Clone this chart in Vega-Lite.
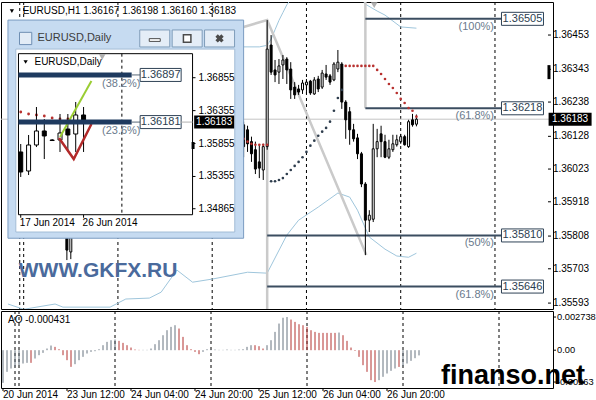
{
"$schema":"https://vega.github.io/schema/vega-lite/v6.json",
"padding":0,
"background":"#ffffff",
"config":{"font":"Liberation Sans","view":{"stroke":"#000000","strokeWidth":1}},
"datasets":{
"sep":[{"i":-1},{"i":0},{"i":24},{"i":48},{"i":72},{"i":96},{"i":120}],
"bands":[{"b":"u","i":56,"p":1.36415},{"b":"u","i":60,"p":1.36415},{"b":"u","i":62,"p":1.3642},{"b":"u","i":63,"p":1.3644},{"b":"u","i":64,"p":1.3647},{"b":"u","i":65,"p":1.365},{"b":"u","i":66,"p":1.36525},{"b":"u","i":67,"p":1.3655},{"b":"u","i":70,"p":1.366},{"b":"u","i":80,"p":1.3663},{"b":"u","i":85,"p":1.3659},{"b":"u","i":87,"p":1.36552},{"b":"u","i":90,"p":1.3653},{"b":"u","i":92,"p":1.36517},{"b":"u","i":96,"p":1.36479},{"b":"u","i":100,"p":1.36475},
{"b":"l","i":-4,"p":1.3559},{"b":"l","i":0,"p":1.35573},{"b":"l","i":8,"p":1.3559},{"b":"l","i":10,"p":1.3558},{"b":"l","i":22,"p":1.3558},{"b":"l","i":26,"p":1.35606},{"b":"l","i":32,"p":1.35609},{"b":"l","i":35,"p":1.35628},{"b":"l","i":39,"p":1.35699},{"b":"l","i":43,"p":1.3566},{"b":"l","i":48,"p":1.3567},{"b":"l","i":57,"p":1.35692},{"b":"l","i":62,"p":1.35689},{"b":"l","i":67,"p":1.35811},{"b":"l","i":70,"p":1.35859},{"b":"l","i":75,"p":1.35901},{"b":"l","i":80,"p":1.35946},{"b":"l","i":83,"p":1.35933},{"b":"l","i":85,"p":1.35891},{"b":"l","i":88,"p":1.35805},{"b":"l","i":92,"p":1.35766},{"b":"l","i":95,"p":1.35744},{"b":"l","i":98,"p":1.3574},{"b":"l","i":100,"p":1.35753}],
"fib":[{"lvl":1.36505,"lab":"1.36505","pct":"(100%)","s":87},{"lvl":1.36218,"lab":"1.36218","pct":"(61.8%)","s":87},{"lvl":1.3581,"lab":"1.35810","pct":"(50%)","s":62},{"lvl":1.35646,"lab":"1.35646","pct":"(61.8%)","s":62}],
"c1":[{"i":11,"o":1.35837,"h":1.35869,"l":1.35731,"c":1.35763,"d":"down"},
{"i":12,"o":1.35757,"h":1.35853,"l":1.35734,"c":1.35827,"d":"up"},
{"i":56,"o":1.36165,"h":1.36175,"l":1.36061,"c":1.36095,"d":"down"},
{"i":57,"o":1.36149,"h":1.36162,"l":1.36078,"c":1.36104,"d":"down"},
{"i":58,"o":1.36111,"h":1.36127,"l":1.36046,"c":1.36072,"d":"down"},
{"i":59,"o":1.36085,"h":1.36111,"l":1.36007,"c":1.36023,"d":"down"},
{"i":60,"o":1.36046,"h":1.36101,"l":1.35994,"c":1.36026,"d":"down"},
{"i":61,"o":1.3602,"h":1.36104,"l":1.35988,"c":1.36095,"d":"up"},
{"i":62,"o":1.36095,"h":1.36501,"l":1.36085,"c":1.36408,"d":"up"},
{"i":63,"o":1.36421,"h":1.36453,"l":1.36325,"c":1.36334,"d":"down"},
{"i":64,"o":1.36341,"h":1.36373,"l":1.36302,"c":1.36325,"d":"down"},
{"i":65,"o":1.36334,"h":1.36376,"l":1.36296,"c":1.36354,"d":"up"},
{"i":66,"o":1.36357,"h":1.36389,"l":1.36312,"c":1.36373,"d":"up"},
{"i":67,"o":1.36376,"h":1.36382,"l":1.36296,"c":1.36341,"d":"down"},
{"i":68,"o":1.36344,"h":1.36366,"l":1.36248,"c":1.36277,"d":"down"},
{"i":69,"o":1.36286,"h":1.36302,"l":1.36248,"c":1.36261,"d":"down"},
{"i":70,"o":1.3628,"h":1.36293,"l":1.36261,"c":1.3627,"d":"down"},
{"i":71,"o":1.36277,"h":1.36309,"l":1.36264,"c":1.36299,"d":"up"},
{"i":72,"o":1.36293,"h":1.36312,"l":1.36264,"c":1.36302,"d":"up"},
{"i":73,"o":1.36305,"h":1.36309,"l":1.36261,"c":1.36267,"d":"down"},
{"i":74,"o":1.36264,"h":1.36318,"l":1.36261,"c":1.36309,"d":"up"},
{"i":75,"o":1.36312,"h":1.36322,"l":1.3627,"c":1.3628,"d":"down"},
{"i":76,"o":1.36286,"h":1.36341,"l":1.3628,"c":1.36331,"d":"up"},
{"i":77,"o":1.36328,"h":1.36357,"l":1.36309,"c":1.36318,"d":"down"},
{"i":78,"o":1.36322,"h":1.36328,"l":1.36293,"c":1.36302,"d":"down"},
{"i":79,"o":1.36309,"h":1.36366,"l":1.36305,"c":1.3636,"d":"up"},
{"i":80,"o":1.36344,"h":1.36405,"l":1.36334,"c":1.36366,"d":"up"},
{"i":81,"o":1.3636,"h":1.36366,"l":1.36216,"c":1.36238,"d":"down"},
{"i":82,"o":1.36238,"h":1.36244,"l":1.3612,"c":1.36181,"d":"down"},
{"i":83,"o":1.36207,"h":1.36222,"l":1.36101,"c":1.36149,"d":"down"},
{"i":84,"o":1.36149,"h":1.36168,"l":1.36111,"c":1.3612,"d":"down"},
{"i":85,"o":1.36123,"h":1.36136,"l":1.36055,"c":1.36072,"d":"down"},
{"i":86,"o":1.36072,"h":1.36078,"l":1.35965,"c":1.35975,"d":"down"},
{"i":87,"o":1.35975,"h":1.35981,"l":1.35747,"c":1.35859,"d":"down"},
{"i":88,"o":1.35859,"h":1.35891,"l":1.35821,"c":1.35875,"d":"up"},
{"i":89,"o":1.35862,"h":1.36168,"l":1.35853,"c":1.36088,"d":"up"},
{"i":90,"o":1.36088,"h":1.36152,"l":1.36061,"c":1.36111,"d":"up"},
{"i":91,"o":1.36136,"h":1.36162,"l":1.36061,"c":1.36111,"d":"down"},
{"i":92,"o":1.36111,"h":1.36133,"l":1.36058,"c":1.36061,"d":"down"},
{"i":93,"o":1.36061,"h":1.36117,"l":1.36055,"c":1.36088,"d":"up"},
{"i":94,"o":1.36085,"h":1.36133,"l":1.36078,"c":1.36104,"d":"up"},
{"i":95,"o":1.36101,"h":1.36133,"l":1.36095,"c":1.36117,"d":"up"},
{"i":96,"o":1.36111,"h":1.36136,"l":1.36104,"c":1.36127,"d":"up"},
{"i":97,"o":1.36127,"h":1.36133,"l":1.36098,"c":1.36101,"d":"down"},
{"i":98,"o":1.36095,"h":1.36181,"l":1.36091,"c":1.36175,"d":"up"},
{"i":99,"o":1.36181,"h":1.362,"l":1.36159,"c":1.36165,"d":"down"},
{"i":100,"o":1.36167,"h":1.36198,"l":1.3616,"c":1.36183,"d":"up"}],
"sar":[{"i":56,"p":1.3612,"s":"r"},{"i":57,"p":1.36111,"s":"r"},{"i":58,"p":1.36104,"s":"r"},{"i":59,"p":1.36101,"s":"r"},{"i":60,"p":1.36101,"s":"r"},{"i":61,"p":1.36101,"s":"r"},{"i":62,"p":1.36101,"s":"r"},
{"i":63,"p":1.35984,"s":"k"},{"i":64,"p":1.35984,"s":"k"},{"i":65,"p":1.35988,"s":"k"},{"i":66,"p":1.35994,"s":"k"},{"i":67,"p":1.36007,"s":"k"},{"i":68,"p":1.3602,"s":"k"},{"i":69,"p":1.36033,"s":"k"},{"i":70,"p":1.36046,"s":"k"},{"i":71,"p":1.36061,"s":"k"},{"i":72,"p":1.36078,"s":"k"},{"i":73,"p":1.36098,"s":"k"},{"i":74,"p":1.36114,"s":"k"},{"i":75,"p":1.3613,"s":"k"},{"i":76,"p":1.36143,"s":"k"},{"i":77,"p":1.36155,"s":"k"},{"i":78,"p":1.36175,"s":"k"},{"i":79,"p":1.3621,"s":"k"},{"i":80,"p":1.36251,"s":"k"},{"i":81,"p":1.36277,"s":"k"},
{"i":82,"p":1.36354,"s":"r"},{"i":83,"p":1.36354,"s":"r"},{"i":84,"p":1.36354,"s":"r"},{"i":85,"p":1.36354,"s":"r"},{"i":86,"p":1.36354,"s":"r"},{"i":87,"p":1.36354,"s":"r"},{"i":88,"p":1.36354,"s":"r"},{"i":89,"p":1.36354,"s":"r"},{"i":90,"p":1.36341,"s":"r"},{"i":91,"p":1.36328,"s":"r"},{"i":92,"p":1.36312,"s":"r"},{"i":93,"p":1.36296,"s":"r"},{"i":94,"p":1.36283,"s":"r"},{"i":95,"p":1.36267,"s":"r"},{"i":96,"p":1.36248,"s":"r"},{"i":97,"p":1.36235,"s":"r"},{"i":98,"p":1.36219,"s":"r"},{"i":99,"p":1.3621,"s":"r"},{"i":100,"p":1.36191,"s":"r"}],
"c2":[{"j":0,"o":1.35727,"h":1.35848,"l":1.35347,"c":1.35423,"d":"down"},
{"j":1,"o":1.35438,"h":1.35985,"l":1.35377,"c":1.35833,"d":"up"},
{"j":2,"o":1.35833,"h":1.3641,"l":1.35802,"c":1.36046,"d":"up"},
{"j":3,"o":1.36046,"h":1.36228,"l":1.3562,"c":1.3597,"d":"down"},
{"j":4,"o":1.35909,"h":1.35924,"l":1.35894,"c":1.35901,"d":"down"},
{"j":5,"o":1.35909,"h":1.36304,"l":1.35727,"c":1.36015,"d":"up"},
{"j":6,"o":1.36076,"h":1.36304,"l":1.35727,"c":1.35985,"d":"down"},
{"j":7,"o":1.36,"h":1.36486,"l":1.35727,"c":1.36289,"d":"up"},
{"j":8,"o":1.36289,"h":1.3641,"l":1.35727,"c":1.36183,"d":"down"}],
"sar2":[{"j":0,"q":1.36334},{"j":1,"q":1.36304},{"j":2,"q":1.36289},{"j":3,"q":1.36273},{"j":4,"q":1.36243},{"j":5,"q":1.36228},{"j":6,"q":1.36228}],
"fib2":[{"lvl":1.36897,"lab":"1.36897","pct":"(38.2%)"},{"lvl":1.36181,"lab":"1.36181","pct":"(23.6%)"}],
"pticks":[{"p":1.36453},{"p":1.36343},{"p":1.36238},{"p":1.36128},{"p":1.36023},{"p":1.35918},{"p":1.35808},{"p":1.35703},{"p":1.35593}],
"aoticks":[{"v":0.002738,"t":"0.002738"},{"v":0,"t":"0.00"},{"v":-0.00263,"t":"-0.00263"}],
"xticks":[{"i":-4,"t":"20 Jun 2014"},{"i":12,"t":"23 Jun 12:00"},{"i":28,"t":"24 Jun 04:00"},{"i":44,"t":"24 Jun 20:00"},{"i":60,"t":"25 Jun 12:00"},{"i":76,"t":"26 Jun 04:00"},{"i":92,"t":"26 Jun 20:00"}],
"ao":[{"i":-4,"v":-0.002695,"d":"g"},{"i":-3,"v":-0.001788,"d":"g"},{"i":-2,"v":-0.001513,"d":"g"},{"i":-1,"v":-0.001375,"d":"g"},{"i":0,"v":-0.001238,"d":"g"},{"i":1,"v":-0.0011,"d":"g"},{"i":2,"v":-0.001045,"d":"g"},{"i":3,"v":-0.001045,"d":"r"},{"i":4,"v":-0.000688,"d":"g"},{"i":5,"v":-0.000413,"d":"g"},{"i":6,"v":-0.00022,"d":"g"},{"i":7,"v":0.000138,"d":"g"},{"i":8,"v":0.000385,"d":"g"},{"i":9,"v":0.000275,"d":"r"},{"i":10,"v":0.0000825,"d":"r"},{"i":11,"v":-0.000413,"d":"r"},{"i":12,"v":-0.000825,"d":"r"},{"i":13,"v":-0.001375,"d":"r"},{"i":14,"v":-0.001155,"d":"g"},{"i":15,"v":-0.000825,"d":"g"},{"i":16,"v":-0.00055,"d":"g"},{"i":17,"v":-0.000275,"d":"g"},{"i":18,"v":-0.000138,"d":"g"},{"i":19,"v":-0.0000825,"d":"g"},{"i":20,"v":0.0000825,"d":"g"},{"i":21,"v":0.000413,"d":"g"},{"i":22,"v":0.000688,"d":"g"},{"i":23,"v":0.000825,"d":"g"},{"i":24,"v":0.00088,"d":"g"},{"i":25,"v":0.00077,"d":"r"},{"i":26,"v":0.000605,"d":"r"},{"i":27,"v":0.000413,"d":"r"},{"i":28,"v":0.00022,"d":"r"},{"i":29,"v":0.000055,"d":"r"},{"i":30,"v":0.0000275,"d":"r"},{"i":31,"v":0.0000275,"d":"g"},{"i":32,"v":0.0000275,"d":"g"},{"i":33,"v":0.000138,"d":"g"},{"i":34,"v":0.000495,"d":"g"},{"i":35,"v":0.000825,"d":"g"},{"i":36,"v":0.001238,"d":"g"},{"i":37,"v":0.00165,"d":"g"},{"i":38,"v":0.001925,"d":"g"},{"i":39,"v":0.002063,"d":"g"},{"i":40,"v":0.001788,"d":"r"},{"i":41,"v":0.0011,"d":"r"},{"i":42,"v":0.000413,"d":"r"},{"i":43,"v":0.0000825,"d":"r"},{"i":44,"v":-0.000138,"d":"r"},{"i":45,"v":-0.00033,"d":"r"},{"i":46,"v":-0.000138,"d":"g"},{"i":47,"v":0.0000825,"d":"g"},{"i":48,"v":0.000055,"d":"g"},{"i":49,"v":0.000055,"d":"g"},{"i":50,"v":0.0000275,"d":"g"},{"i":51,"v":0.0000275,"d":"g"},{"i":52,"v":0.000055,"d":"g"},{"i":53,"v":0.0000275,"d":"g"},{"i":54,"v":0.0000275,"d":"g"},{"i":55,"v":0.000055,"d":"g"},{"i":56,"v":0.0000825,"d":"g"},{"i":57,"v":0.000275,"d":"g"},{"i":58,"v":0.000413,"d":"g"},{"i":59,"v":0.000413,"d":"r"},{"i":60,"v":0.00033,"d":"r"},{"i":61,"v":0.000138,"d":"r"},{"i":62,"v":0.000413,"d":"g"},{"i":63,"v":0.000825,"d":"g"},{"i":64,"v":0.001513,"d":"g"},{"i":65,"v":0.0022,"d":"g"},{"i":66,"v":0.00268,"d":"g"},{"i":67,"v":0.002738,"d":"g"},{"i":68,"v":0.00253,"d":"r"},{"i":69,"v":0.002338,"d":"r"},{"i":70,"v":0.002145,"d":"r"},{"i":71,"v":0.002063,"d":"r"},{"i":72,"v":0.001925,"d":"r"},{"i":73,"v":0.00165,"d":"r"},{"i":74,"v":0.001513,"d":"r"},{"i":75,"v":0.00143,"d":"r"},{"i":76,"v":0.00143,"d":"r"},{"i":77,"v":0.00143,"d":"r"},{"i":78,"v":0.00143,"d":"r"},{"i":79,"v":0.00143,"d":"r"},{"i":80,"v":0.001458,"d":"g"},{"i":81,"v":0.001238,"d":"r"},{"i":82,"v":0.00077,"d":"r"},{"i":83,"v":0.00022,"d":"r"},{"i":84,"v":-0.000055,"d":"r"},{"i":85,"v":-0.00055,"d":"r"},{"i":86,"v":-0.001238,"d":"r"},{"i":87,"v":-0.001788,"d":"r"},{"i":88,"v":-0.002475,"d":"r"},{"i":89,"v":-0.00263,"d":"r"},{"i":90,"v":-0.002475,"d":"g"},{"i":91,"v":-0.0022,"d":"g"},{"i":92,"v":-0.001925,"d":"g"},{"i":93,"v":-0.001705,"d":"g"},{"i":94,"v":-0.001513,"d":"g"},{"i":95,"v":-0.00138,"d":"r"},{"i":96,"v":-0.00132,"d":"g"},{"i":97,"v":-0.0011,"d":"g"},{"i":98,"v":-0.00088,"d":"g"},{"i":99,"v":-0.00066,"d":"g"},{"i":100,"v":-0.000431,"d":"g"}]
},
"spacing":2,
"bounds":"flush",
"resolve":{"scale":{"x":"independent","y":"independent"}},
"vconcat":[
{"width":552,"height":307,
"resolve":{"scale":{"x":"independent","y":"independent"},"axis":{"x":"independent","y":"independent"}},
"layer":[
{"layer":[
{"data":{"name":"sep"},"mark":{"type":"rule","color":"#000000","strokeDash":[3,3],"strokeWidth":1},
 "encoding":{"x":{"field":"i","type":"quantitative","scale":{"domain":[-4.5,133.5],"nice":false,"zero":false},"axis":null}}},
{"data":{"name":"bands"},"mark":{"type":"line","clip":true,"color":"#9fc6dc","strokeWidth":1},
 "encoding":{"x":{"field":"i","type":"quantitative","scale":{"domain":[-4.5,133.5],"nice":false,"zero":false},"axis":null},
  "y":{"field":"p","type":"quantitative","scale":{"domain":[1.35574,1.36559],"nice":false,"zero":false},"axis":null},
  "detail":{"field":"b"}}},
{"data":{"values":[{"p":1.36183}]},"mark":{"type":"rule","color":"#c4c4c4","strokeWidth":1},
 "encoding":{"y":{"field":"p","type":"quantitative","scale":{"domain":[1.35574,1.36559],"nice":false,"zero":false},"axis":null}}},
{"data":{"values":[{"i":56,"p":1.36479},{"i":62,"p":1.36501},{"i":87.25,"p":1.35747}]},"mark":{"type":"line","color":"#cacaca","strokeWidth":2.5},
 "encoding":{"x":{"field":"i","type":"quantitative","scale":{"domain":[-4.5,133.5],"nice":false,"zero":false},"axis":null},
  "y":{"field":"p","type":"quantitative","scale":{"domain":[1.35574,1.36559],"nice":false,"zero":false},"axis":null}}},
{"data":{"values":[{}]},"mark":{"type":"rule","color":"#cacaca","strokeWidth":2.5},
 "encoding":{"x":{"datum":62,"type":"quantitative","scale":{"domain":[-4.5,133.5],"nice":false,"zero":false},"axis":null},
  "y":{"datum":1.36501,"type":"quantitative","scale":{"domain":[1.35574,1.36559],"nice":false,"zero":false},"axis":null},"y2":{"datum":1.35574}}},
{"data":{"values":[{}]},"mark":{"type":"rule","color":"#cacaca","strokeWidth":2.5},
 "encoding":{"x":{"datum":87,"type":"quantitative","scale":{"domain":[-4.5,133.5],"nice":false,"zero":false},"axis":null},
  "y":{"datum":1.36559,"type":"quantitative","scale":{"domain":[1.35574,1.36559],"nice":false,"zero":false},"axis":null},"y2":{"datum":1.36218}}},
{"data":{"name":"fib"},"mark":{"type":"rule","color":"#3b4d60","strokeWidth":2},
 "encoding":{"x":{"field":"s","type":"quantitative","scale":{"domain":[-4.5,133.5],"nice":false,"zero":false},"axis":null},"x2":{"datum":121.75},
  "y":{"field":"lvl","type":"quantitative","scale":{"domain":[1.35574,1.36559],"nice":false,"zero":false},"axis":null}}},
{"data":{"name":"fib"},"mark":{"type":"text","align":"right","baseline":"middle","dy":8,"fontSize":11,"color":"#6a7a8c"},
 "encoding":{"x":{"datum":119.75,"type":"quantitative","scale":{"domain":[-4.5,133.5],"nice":false,"zero":false},"axis":null},
  "y":{"field":"lvl","type":"quantitative","scale":{"domain":[1.35574,1.36559],"nice":false,"zero":false},"axis":null},"text":{"field":"pct"}}},
{"data":{"name":"fib"},"mark":{"type":"point","shape":"M-1,-0.31L1,-0.31L1,0.31L-1,0.31Z","size":1764,"filled":true,"fill":"#ffffff","stroke":"#2f4256","strokeWidth":1,"opacity":1},
 "encoding":{"x":{"datum":127,"type":"quantitative","scale":{"domain":[-4.5,133.5],"nice":false,"zero":false},"axis":null},
  "y":{"field":"lvl","type":"quantitative","scale":{"domain":[1.35574,1.36559],"nice":false,"zero":false},"axis":null}}},
{"data":{"name":"fib"},"mark":{"type":"text","align":"center","baseline":"middle","fontSize":11,"color":"#2c3e50"},
 "encoding":{"x":{"datum":127,"type":"quantitative","scale":{"domain":[-4.5,133.5],"nice":false,"zero":false},"axis":null},
  "y":{"field":"lvl","type":"quantitative","scale":{"domain":[1.35574,1.36559],"nice":false,"zero":false},"axis":null},"text":{"field":"lab"}}},
{"data":{"name":"c1"},"mark":{"type":"rule","color":"#000000","strokeWidth":1},
 "encoding":{"x":{"field":"i","type":"quantitative","scale":{"domain":[-4.5,133.5],"nice":false,"zero":false},"axis":null},
  "y":{"field":"l","type":"quantitative","scale":{"domain":[1.35574,1.36559],"nice":false,"zero":false},"axis":null},"y2":{"field":"h"}}},
{"data":{"name":"c1"},"mark":{"type":"bar","width":2,"stroke":"#000000","strokeWidth":1},
 "encoding":{"x":{"field":"i","type":"quantitative","scale":{"domain":[-4.5,133.5],"nice":false,"zero":false},"axis":null},
  "y":{"field":"o","type":"quantitative","scale":{"domain":[1.35574,1.36559],"nice":false,"zero":false},"axis":null},"y2":{"field":"c"},
  "color":{"condition":{"test":"datum.d === 'up'","value":"#ffffff"},"value":"#000000"}}},
{"data":{"name":"sar"},"mark":{"type":"point","filled":true,"size":7,"opacity":1},
 "encoding":{"x":{"field":"i","type":"quantitative","scale":{"domain":[-4.5,133.5],"nice":false,"zero":false},"axis":null},
  "y":{"field":"p","type":"quantitative","scale":{"domain":[1.35574,1.36559],"nice":false,"zero":false},"axis":null},
  "color":{"condition":{"test":"datum.s === 'r'","value":"#b8312f"},"value":"#2e3d4d"}}},
{"data":{"values":[{}]},"mark":{"type":"point","shape":"triangle-down","filled":true,"size":18,"color":"#000000","opacity":1},
 "encoding":{"x":{"datum":-3,"type":"quantitative","scale":{"domain":[-4.5,133.5],"nice":false,"zero":false},"axis":null},
  "y":{"datum":1.3653,"type":"quantitative","scale":{"domain":[1.35574,1.36559],"nice":false,"zero":false},"axis":null}}},
{"data":{"values":[{}]},"mark":{"type":"text","align":"left","baseline":"middle","fontSize":10,"color":"#000000","text":"EURUSD,H1  1.36167 1.36198 1.36160 1.36183"},
 "encoding":{"x":{"datum":-0.25,"type":"quantitative","scale":{"domain":[-4.5,133.5],"nice":false,"zero":false},"axis":null},
  "y":{"datum":1.3653,"type":"quantitative","scale":{"domain":[1.35574,1.36559],"nice":false,"zero":false},"axis":null}}},
{"data":{"name":"pticks"},"mark":{"type":"rule","color":"#000000","strokeWidth":1},
 "encoding":{"x":{"datum":133.5,"type":"quantitative","scale":{"domain":[-4.5,133.5],"nice":false,"zero":false},"axis":null},"x2":{"datum":134.25},
  "y":{"field":"p","type":"quantitative","scale":{"domain":[1.35574,1.36559],"nice":false,"zero":false},"axis":null}}},
{"data":{"name":"pticks"},"mark":{"type":"text","align":"left","baseline":"middle","fontSize":10,"color":"#000000"},
 "encoding":{"x":{"datum":134.75,"type":"quantitative","scale":{"domain":[-4.5,133.5],"nice":false,"zero":false},"axis":null},
  "y":{"field":"p","type":"quantitative","scale":{"domain":[1.35574,1.36559],"nice":false,"zero":false},"axis":null},
  "text":{"field":"p","type":"quantitative","format":".5f"}}},
{"data":{"values":[{}]},"mark":{"type":"point","shape":"M-1,-0.302L1,-0.302L1,0.302L-1,0.302Z","size":1849,"filled":true,"color":"#000000","opacity":1},
 "encoding":{"x":{"datum":139.125,"type":"quantitative","scale":{"domain":[-4.5,133.5],"nice":false,"zero":false},"axis":null},
  "y":{"datum":1.36183,"type":"quantitative","scale":{"domain":[1.35574,1.36559],"nice":false,"zero":false},"axis":null}}},
{"data":{"values":[{}]},"mark":{"type":"text","align":"center","baseline":"middle","fontSize":10,"color":"#ffffff","text":"1.36183"},
 "encoding":{"x":{"datum":139.125,"type":"quantitative","scale":{"domain":[-4.5,133.5],"nice":false,"zero":false},"axis":null},
  "y":{"datum":1.36183,"type":"quantitative","scale":{"domain":[1.35574,1.36559],"nice":false,"zero":false},"axis":null}}},
{"data":{"values":[{}]},"mark":{"type":"point","shape":"triangle-down","filled":true,"size":45,"color":"#b0b0b0","opacity":1},
 "encoding":{"x":{"datum":89.25,"type":"quantitative","scale":{"domain":[-4.5,133.5],"nice":false,"zero":false},"axis":null},
  "y":{"datum":1.36549,"type":"quantitative","scale":{"domain":[1.35574,1.36559],"nice":false,"zero":false},"axis":null}}},
{"data":{"values":[{}]},"mark":{"type":"point","shape":"M-1,-4.67L1,-4.67L1,4.67L-1,4.67Z","size":9,"filled":true,"color":"#000000","opacity":1},
 "encoding":{"x":{"datum":133.75,"type":"quantitative","scale":{"domain":[-4.5,133.5],"nice":false,"zero":false},"axis":null},
  "y":{"datum":1.36334,"type":"quantitative","scale":{"domain":[1.35574,1.36559],"nice":false,"zero":false},"axis":null}}},
{"data":{"values":[{}]},"mark":{"type":"text","align":"left","baseline":"alphabetic","fontSize":21,"fontWeight":"bold","color":"#4a6a9c","text":"WWW.GKFX.RU"},
 "encoding":{"x":{"datum":-1.25,"type":"quantitative","scale":{"domain":[-4.5,133.5],"nice":false,"zero":false},"axis":null},
  "y":{"datum":1.35676,"type":"quantitative","scale":{"domain":[1.35574,1.36559],"nice":false,"zero":false},"axis":null}}},
{"data":{"values":[{}]},"mark":{"type":"rect","fill":"#c6dbf1","stroke":"#7b9cc2","strokeWidth":1},
 "encoding":{"x":{"datum":-4,"type":"quantitative","scale":{"domain":[-4.5,133.5],"nice":false,"zero":false},"axis":null},"x2":{"datum":56},
  "y":{"datum":1.36501,"type":"quantitative","scale":{"domain":[1.35574,1.36559],"nice":false,"zero":false},"axis":null},"y2":{"datum":1.35801}}},
{"data":{"values":[{}]},"mark":{"type":"rect","fill":"#ffffff","stroke":"#a3bcd6","strokeWidth":1},
 "encoding":{"x":{"datum":-2,"type":"quantitative","scale":{"domain":[-4.5,133.5],"nice":false,"zero":false},"axis":null},"x2":{"datum":53.75},
  "y":{"datum":1.36408,"type":"quantitative","scale":{"domain":[1.35574,1.36559],"nice":false,"zero":false},"axis":null},"y2":{"datum":1.35821}}},
{"data":{"values":[{}]},"mark":{"type":"point","shape":"square","size":150,"filled":true,"fill":"#e3ecf6","stroke":"#6f8fb3","strokeWidth":1,"opacity":1},
 "encoding":{"x":{"datum":0.5,"type":"quantitative","scale":{"domain":[-4.5,133.5],"nice":false,"zero":false},"axis":null},
  "y":{"datum":1.36442,"type":"quantitative","scale":{"domain":[1.35574,1.36559],"nice":false,"zero":false},"axis":null}}},
{"data":{"values":[{}]},"mark":{"type":"text","align":"left","baseline":"middle","fontSize":11,"color":"#3c3c3c","text":"EURUSD,Daily"},
 "encoding":{"x":{"datum":3.5,"type":"quantitative","scale":{"domain":[-4.5,133.5],"nice":false,"zero":false},"axis":null},
  "y":{"datum":1.36443,"type":"quantitative","scale":{"domain":[1.35574,1.36559],"nice":false,"zero":false},"axis":null}}},
{"data":{"values":[{}]},"mark":{"type":"point","shape":"M-1,-0.567L1,-0.567L1,0.567L-1,0.567Z","size":900,"filled":true,"fill":"#e4edf7","stroke":"#7f9db9","strokeWidth":1,"opacity":1},
 "encoding":{"x":{"datum":33.375,"type":"quantitative","scale":{"domain":[-4.5,133.5],"nice":false,"zero":false},"axis":null},
  "y":{"datum":1.36442,"type":"quantitative","scale":{"domain":[1.35574,1.36559],"nice":false,"zero":false},"axis":null}}},
{"data":{"values":[{}]},"mark":{"type":"point","shape":"M-1,-0.567L1,-0.567L1,0.567L-1,0.567Z","size":900,"filled":true,"fill":"#e4edf7","stroke":"#7f9db9","strokeWidth":1,"opacity":1},
 "encoding":{"x":{"datum":41.625,"type":"quantitative","scale":{"domain":[-4.5,133.5],"nice":false,"zero":false},"axis":null},
  "y":{"datum":1.36442,"type":"quantitative","scale":{"domain":[1.35574,1.36559],"nice":false,"zero":false},"axis":null}}},
{"data":{"values":[{}]},"mark":{"type":"point","shape":"M-1,-0.567L1,-0.567L1,0.567L-1,0.567Z","size":900,"filled":true,"fill":"#e4edf7","stroke":"#7f9db9","strokeWidth":1,"opacity":1},
 "encoding":{"x":{"datum":49.875,"type":"quantitative","scale":{"domain":[-4.5,133.5],"nice":false,"zero":false},"axis":null},
  "y":{"datum":1.36442,"type":"quantitative","scale":{"domain":[1.35574,1.36559],"nice":false,"zero":false},"axis":null}}},
{"data":{"values":[{}]},"mark":{"type":"point","shape":"M-1,-0.25L1,-0.25L1,0.25L-1,0.25Z","size":121,"filled":true,"fill":"#ffffff","stroke":"#4b4b4b","strokeWidth":1,"opacity":1},
 "encoding":{"x":{"datum":33.375,"type":"quantitative","scale":{"domain":[-4.5,133.5],"nice":false,"zero":false},"axis":null},
  "y":{"datum":1.36437,"type":"quantitative","scale":{"domain":[1.35574,1.36559],"nice":false,"zero":false},"axis":null}}},
{"data":{"values":[{}]},"mark":{"type":"point","shape":"square","size":56,"filled":true,"fill":"#ffffff","stroke":"#4b4b4b","strokeWidth":1.5,"opacity":1},
 "encoding":{"x":{"datum":41.625,"type":"quantitative","scale":{"domain":[-4.5,133.5],"nice":false,"zero":false},"axis":null},
  "y":{"datum":1.36442,"type":"quantitative","scale":{"domain":[1.35574,1.36559],"nice":false,"zero":false},"axis":null}}},
{"data":{"values":[{}]},"mark":{"type":"point","shape":"cross","angle":45,"size":70,"filled":true,"color":"#4b4b4b","opacity":1},
 "encoding":{"x":{"datum":49.875,"type":"quantitative","scale":{"domain":[-4.5,133.5],"nice":false,"zero":false},"axis":null},
  "y":{"datum":1.36442,"type":"quantitative","scale":{"domain":[1.35574,1.36559],"nice":false,"zero":false},"axis":null}}}
]},
{"layer":[
{"data":{"values":[{}]},"mark":{"type":"rect","fill":"#ffffff","stroke":"#000000","strokeWidth":1},
 "encoding":{"x":{"datum":-0.2875,"type":"quantitative","scale":{"domain":[-1.875,67.125],"nice":false,"zero":false},"axis":null},"x2":{"datum":21.875},
  "y":{"datum":1.3722,"type":"quantitative","scale":{"domain":[1.33342,1.38005],"nice":false,"zero":false},"axis":null},"y2":{"datum":1.34774}}},
{"data":{"values":[{}]},"mark":{"type":"rule","color":"#000000","strokeDash":[3,3],"strokeWidth":1},
 "encoding":{"x":{"datum":12.875,"type":"quantitative","scale":{"domain":[-1.875,67.125],"nice":false,"zero":false},"axis":null},
  "y":{"datum":1.3722,"type":"quantitative","scale":{"domain":[1.33342,1.38005],"nice":false,"zero":false},"axis":null},"y2":{"datum":1.34774}}},
{"data":{"name":"sar2"},"mark":{"type":"point","filled":true,"size":8,"color":"#b8312f","opacity":1},
 "encoding":{"x":{"field":"j","type":"quantitative","scale":{"domain":[-1.875,67.125],"nice":false,"zero":false},"axis":null},
  "y":{"field":"q","type":"quantitative","scale":{"domain":[1.33342,1.38005],"nice":false,"zero":false},"axis":null}}},
{"data":{"name":"c2"},"mark":{"type":"rule","color":"#000000","strokeWidth":1},
 "encoding":{"x":{"field":"j","type":"quantitative","scale":{"domain":[-1.875,67.125],"nice":false,"zero":false},"axis":null},
  "y":{"field":"l","type":"quantitative","scale":{"domain":[1.33342,1.38005],"nice":false,"zero":false},"axis":null},"y2":{"field":"h"}}},
{"data":{"name":"c2"},"mark":{"type":"bar","width":4,"stroke":"#000000","strokeWidth":1},
 "encoding":{"x":{"field":"j","type":"quantitative","scale":{"domain":[-1.875,67.125],"nice":false,"zero":false},"axis":null},
  "y":{"field":"o","type":"quantitative","scale":{"domain":[1.33342,1.38005],"nice":false,"zero":false},"axis":null},"y2":{"field":"c"},
  "color":{"condition":{"test":"datum.d === 'up'","value":"#ffffff"},"value":"#000000"}}},
{"data":{"values":[{"j":5,"q":1.35954},{"j":9,"q":1.36805}]},"mark":{"type":"line","color":"#9acd32","strokeWidth":2},
 "encoding":{"x":{"field":"j","type":"quantitative","scale":{"domain":[-1.875,67.125],"nice":false,"zero":false},"axis":null},
  "y":{"field":"q","type":"quantitative","scale":{"domain":[1.33342,1.38005],"nice":false,"zero":false},"axis":null}}},
{"data":{"values":[{"j":4.875,"q":1.35939},{"j":6.75,"q":1.3562},{"j":9,"q":1.36152}]},"mark":{"type":"line","color":"#b22a2a","strokeWidth":2.5},
 "encoding":{"x":{"field":"j","type":"quantitative","scale":{"domain":[-1.875,67.125],"nice":false,"zero":false},"axis":null},
  "y":{"field":"q","type":"quantitative","scale":{"domain":[1.33342,1.38005],"nice":false,"zero":false},"axis":null}}},
{"data":{"name":"fib2"},"mark":{"type":"rule","color":"#1e3a5f","strokeWidth":5},
 "encoding":{"x":{"datum":-0.2875,"type":"quantitative","scale":{"domain":[-1.875,67.125],"nice":false,"zero":false},"axis":null},"x2":{"datum":14.125},
  "y":{"field":"lvl","type":"quantitative","scale":{"domain":[1.33342,1.38005],"nice":false,"zero":false},"axis":null}}},
{"data":{"name":"fib2"},"mark":{"type":"rule","color":"#5a6a7a","strokeWidth":1},
 "encoding":{"x":{"datum":14.125,"type":"quantitative","scale":{"domain":[-1.875,67.125],"nice":false,"zero":false},"axis":null},"x2":{"datum":15.25},
  "y":{"field":"lvl","type":"quantitative","scale":{"domain":[1.33342,1.38005],"nice":false,"zero":false},"axis":null}}},
{"data":{"name":"fib2"},"mark":{"type":"text","align":"right","baseline":"middle","dy":9,"fontSize":11,"color":"#6a7a8c"},
 "encoding":{"x":{"datum":15.25,"type":"quantitative","scale":{"domain":[-1.875,67.125],"nice":false,"zero":false},"axis":null},
  "y":{"field":"lvl","type":"quantitative","scale":{"domain":[1.33342,1.38005],"nice":false,"zero":false},"axis":null},"text":{"field":"pct"}}},
{"data":{"name":"fib2"},"mark":{"type":"point","shape":"M-1,-0.317L1,-0.317L1,0.317L-1,0.317Z","size":1681,"filled":true,"fill":"#ffffff","stroke":"#2f4256","strokeWidth":1,"opacity":1},
 "encoding":{"x":{"datum":17.8125,"type":"quantitative","scale":{"domain":[-1.875,67.125],"nice":false,"zero":false},"axis":null},
  "y":{"field":"lvl","type":"quantitative","scale":{"domain":[1.33342,1.38005],"nice":false,"zero":false},"axis":null}}},
{"data":{"name":"fib2"},"mark":{"type":"text","align":"center","baseline":"middle","fontSize":11,"color":"#2c3e50"},
 "encoding":{"x":{"datum":17.8125,"type":"quantitative","scale":{"domain":[-1.875,67.125],"nice":false,"zero":false},"axis":null},
  "y":{"field":"lvl","type":"quantitative","scale":{"domain":[1.33342,1.38005],"nice":false,"zero":false},"axis":null},"text":{"field":"lab"}}},
{"data":{"values":[{}]},"mark":{"type":"rule","color":"#b0b0b0","strokeWidth":1},
 "encoding":{"x":{"datum":20.4,"type":"quantitative","scale":{"domain":[-1.875,67.125],"nice":false,"zero":false},"axis":null},"x2":{"datum":21.875},
  "y":{"datum":1.36181,"type":"quantitative","scale":{"domain":[1.33342,1.38005],"nice":false,"zero":false},"axis":null}}},
{"data":{"values":[{}]},"mark":{"type":"point","shape":"M-1,-0.325L1,-0.325L1,0.325L-1,0.325Z","size":1600,"filled":true,"color":"#000000","opacity":1},
 "encoding":{"x":{"datum":24.625,"type":"quantitative","scale":{"domain":[-1.875,67.125],"nice":false,"zero":false},"axis":null},
  "y":{"datum":1.36183,"type":"quantitative","scale":{"domain":[1.33342,1.38005],"nice":false,"zero":false},"axis":null}}},
{"data":{"values":[{}]},"mark":{"type":"text","align":"center","baseline":"middle","fontSize":10,"color":"#ffffff","text":"1.36183"},
 "encoding":{"x":{"datum":24.625,"type":"quantitative","scale":{"domain":[-1.875,67.125],"nice":false,"zero":false},"axis":null},
  "y":{"datum":1.36183,"type":"quantitative","scale":{"domain":[1.33342,1.38005],"nice":false,"zero":false},"axis":null}}},
{"data":{"values":[{"q":1.36855},{"q":1.36355},{"q":1.35855},{"q":1.35355},{"q":1.34865}]},"mark":{"type":"text","align":"left","baseline":"middle","fontSize":10,"color":"#000000"},
 "encoding":{"x":{"datum":22.625,"type":"quantitative","scale":{"domain":[-1.875,67.125],"nice":false,"zero":false},"axis":null},
  "y":{"field":"q","type":"quantitative","scale":{"domain":[1.33342,1.38005],"nice":false,"zero":false},"axis":null},"text":{"field":"q","type":"quantitative","format":".5f"}}},
{"data":{"values":[{"q":1.36855},{"q":1.36355},{"q":1.35855},{"q":1.35355},{"q":1.34865}]},"mark":{"type":"rule","color":"#000000","strokeWidth":1},
 "encoding":{"x":{"datum":21.875,"type":"quantitative","scale":{"domain":[-1.875,67.125],"nice":false,"zero":false},"axis":null},"x2":{"datum":22.25},
  "y":{"field":"q","type":"quantitative","scale":{"domain":[1.33342,1.38005],"nice":false,"zero":false},"axis":null}}},
{"data":{"values":[{"j":0,"t":"17 Jun 2014"},{"j":8,"t":"26 Jun 2014"}]},"mark":{"type":"text","align":"left","baseline":"middle","dx":-1,"fontSize":10,"color":"#000000"},
 "encoding":{"x":{"field":"j","type":"quantitative","scale":{"domain":[-1.875,67.125],"nice":false,"zero":false},"axis":null},
  "y":{"datum":1.34648,"type":"quantitative","scale":{"domain":[1.33342,1.38005],"nice":false,"zero":false},"axis":null},"text":{"field":"t"}}},
{"data":{"values":[{"j":0},{"j":8}]},"mark":{"type":"rule","color":"#000000","strokeWidth":1},
 "encoding":{"x":{"field":"j","type":"quantitative","scale":{"domain":[-1.875,67.125],"nice":false,"zero":false},"axis":null},
  "y":{"datum":1.34774,"type":"quantitative","scale":{"domain":[1.33342,1.38005],"nice":false,"zero":false},"axis":null},"y2":{"datum":1.34728}}},
{"data":{"values":[{}]},"mark":{"type":"point","shape":"triangle-down","filled":true,"size":18,"color":"#000000","opacity":1},
 "encoding":{"x":{"datum":0.625,"type":"quantitative","scale":{"domain":[-1.875,67.125],"nice":false,"zero":false},"axis":null},
  "y":{"datum":1.37094,"type":"quantitative","scale":{"domain":[1.33342,1.38005],"nice":false,"zero":false},"axis":null}}},
{"data":{"values":[{}]},"mark":{"type":"text","align":"left","baseline":"middle","fontSize":10,"color":"#000000","text":"EURUSD,Daily"},
 "encoding":{"x":{"datum":1.75,"type":"quantitative","scale":{"domain":[-1.875,67.125],"nice":false,"zero":false},"axis":null},
  "y":{"datum":1.37094,"type":"quantitative","scale":{"domain":[1.33342,1.38005],"nice":false,"zero":false},"axis":null}}},
{"data":{"values":[{}]},"mark":{"type":"point","shape":"triangle-down","filled":true,"size":45,"color":"#b0b0b0","opacity":1},
 "encoding":{"x":{"datum":10.375,"type":"quantitative","scale":{"domain":[-1.875,67.125],"nice":false,"zero":false},"axis":null},
  "y":{"datum":1.3717,"type":"quantitative","scale":{"domain":[1.33342,1.38005],"nice":false,"zero":false},"axis":null}}},
{"data":{"values":[{}]},"mark":{"type":"point","shape":"M-1,-2.33L1,-2.33L1,2.33L-1,2.33Z","size":9,"filled":true,"color":"#000000","opacity":1},
 "encoding":{"x":{"datum":21.94,"type":"quantitative","scale":{"domain":[-1.875,67.125],"nice":false,"zero":false},"axis":null},
  "y":{"datum":1.35825,"type":"quantitative","scale":{"domain":[1.33342,1.38005],"nice":false,"zero":false},"axis":null}}}
]}
]},
{"width":552,"height":77,
"layer":[
{"data":{"name":"sep"},"mark":{"type":"rule","color":"#000000","strokeDash":[3,3],"strokeWidth":1},
 "encoding":{"x":{"field":"i","type":"quantitative","scale":{"domain":[-4.5,133.5],"nice":false,"zero":false},"axis":null}}},
{"data":{"name":"ao"},"mark":{"type":"rule","strokeWidth":1},
 "encoding":{"x":{"field":"i","type":"quantitative","scale":{"domain":[-4.5,133.5],"nice":false,"zero":false},"axis":null},
  "y":{"field":"v","type":"quantitative","scale":{"domain":[-0.003122,0.003237],"nice":false,"zero":false},"axis":null},
  "y2":{"datum":0},
  "color":{"condition":{"test":"datum.d === 'r'","value":"#b3302e"},"value":"#66727e"}}},
{"data":{"values":[{}]},"mark":{"type":"text","align":"left","baseline":"middle","fontSize":10,"color":"#000000","text":"AO -0.000431"},
 "encoding":{"x":{"datum":-2.75,"type":"quantitative","scale":{"domain":[-4.5,133.5],"nice":false,"zero":false},"axis":null},
  "y":{"datum":0.002494,"type":"quantitative","scale":{"domain":[-0.003122,0.003237],"nice":false,"zero":false},"axis":null}}},
{"data":{"name":"aoticks"},"mark":{"type":"rule","color":"#000000","strokeWidth":1},
 "encoding":{"x":{"datum":133.5,"type":"quantitative","scale":{"domain":[-4.5,133.5],"nice":false,"zero":false},"axis":null},"x2":{"datum":134.25},
  "y":{"field":"v","type":"quantitative","scale":{"domain":[-0.003122,0.003237],"nice":false,"zero":false},"axis":null}}},
{"data":{"name":"aoticks"},"mark":{"type":"text","align":"left","baseline":"middle","fontSize":9.3,"color":"#000000"},
 "encoding":{"x":{"datum":134.5,"type":"quantitative","scale":{"domain":[-4.5,133.5],"nice":false,"zero":false},"axis":null},
  "y":{"field":"v","type":"quantitative","scale":{"domain":[-0.003122,0.003237],"nice":false,"zero":false},"axis":null},"text":{"field":"t"}}},
{"data":{"name":"xticks"},"mark":{"type":"rule","color":"#000000","strokeWidth":1},
 "encoding":{"x":{"field":"i","type":"quantitative","scale":{"domain":[-4.5,133.5],"nice":false,"zero":false},"axis":null},
  "y":{"datum":-0.003122,"type":"quantitative","scale":{"domain":[-0.003122,0.003237],"nice":false,"zero":false},"axis":null},"y2":{"datum":-0.00337}}},
{"data":{"name":"xticks"},"mark":{"type":"text","align":"left","baseline":"middle","fontSize":10,"color":"#000000"},
 "encoding":{"x":{"field":"i","type":"quantitative","scale":{"domain":[-4.5,133.5],"nice":false,"zero":false},"axis":null},
  "y":{"datum":-0.003741,"type":"quantitative","scale":{"domain":[-0.003122,0.003237],"nice":false,"zero":false},"axis":null},"text":{"field":"t"}}},
{"data":{"values":[{}]},"mark":{"type":"text","align":"left","baseline":"alphabetic","fontSize":27,"fontWeight":"bold","color":"#000000","text":"finanso.net"},
 "encoding":{"x":{"datum":105.5,"type":"quantitative","scale":{"domain":[-4.5,133.5],"nice":false,"zero":false},"axis":null},
  "y":{"datum":-0.002791,"type":"quantitative","scale":{"domain":[-0.003122,0.003237],"nice":false,"zero":false},"axis":null}}}
]}
]
}
